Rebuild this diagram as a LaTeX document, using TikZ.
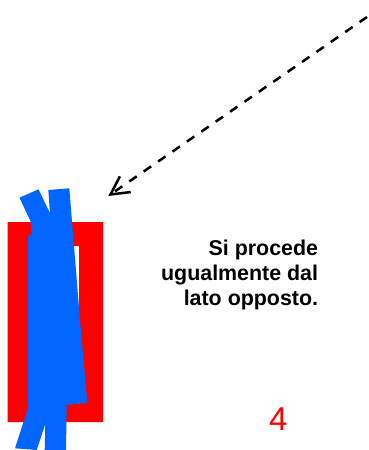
\documentclass[tikz,border=0pt]{standalone}
\usepackage{fontspec}
\setmainfont{Liberation Sans}
\usetikzlibrary{arrows.meta,positioning}
\definecolor{bandblue}{RGB}{0,102,255}
\begin{document}
\begin{tikzpicture}[x=1pt,y=-1pt]
  \tikzstyle{frame}=[fill=red,even odd rule]
  \tikzstyle{band}=[fill=bandblue]
  \tikzstyle{note}=[font=\bfseries\fontsize{21.4}{25}\selectfont,align=right,anchor=north east,inner sep=0pt]
  \useasboundingbox (0,0) rectangle (368,450);
  \fill[frame] (7.5,222) rectangle (103,422) (28,246) rectangle (79,400);
  \fill[band] (19.5,197.7) -- (38.5,189.3) -- (50,213.3) -- (48.3,190) -- (69.3,188.3)
    -- (80,320) -- (87.3,402.7) -- (66.7,405) -- (66,450) -- (44.7,450) -- (45.3,424)
    -- (36.7,450) -- (15,448.3) -- (28,408) -- (28,235.7) -- (31.7,235) -- (30.7,221.7) -- cycle;
  \coordinate (start) at (367,17);
  \coordinate (tip) at (108.3,196);
  \draw[line width=2.5pt,dash pattern=on 9pt off 8.5pt,-{Straight Barb[length=18pt,width=19pt]}] (start) -- (tip);
  \node[note] (text) at (318.3,239.5) {Si procede\\ugualmente dal\\lato opposto.};
  \node[text=red,font=\fontsize{33}{33}\selectfont] (number) at (278.3,419) {4};
\end{tikzpicture}
\end{document}
